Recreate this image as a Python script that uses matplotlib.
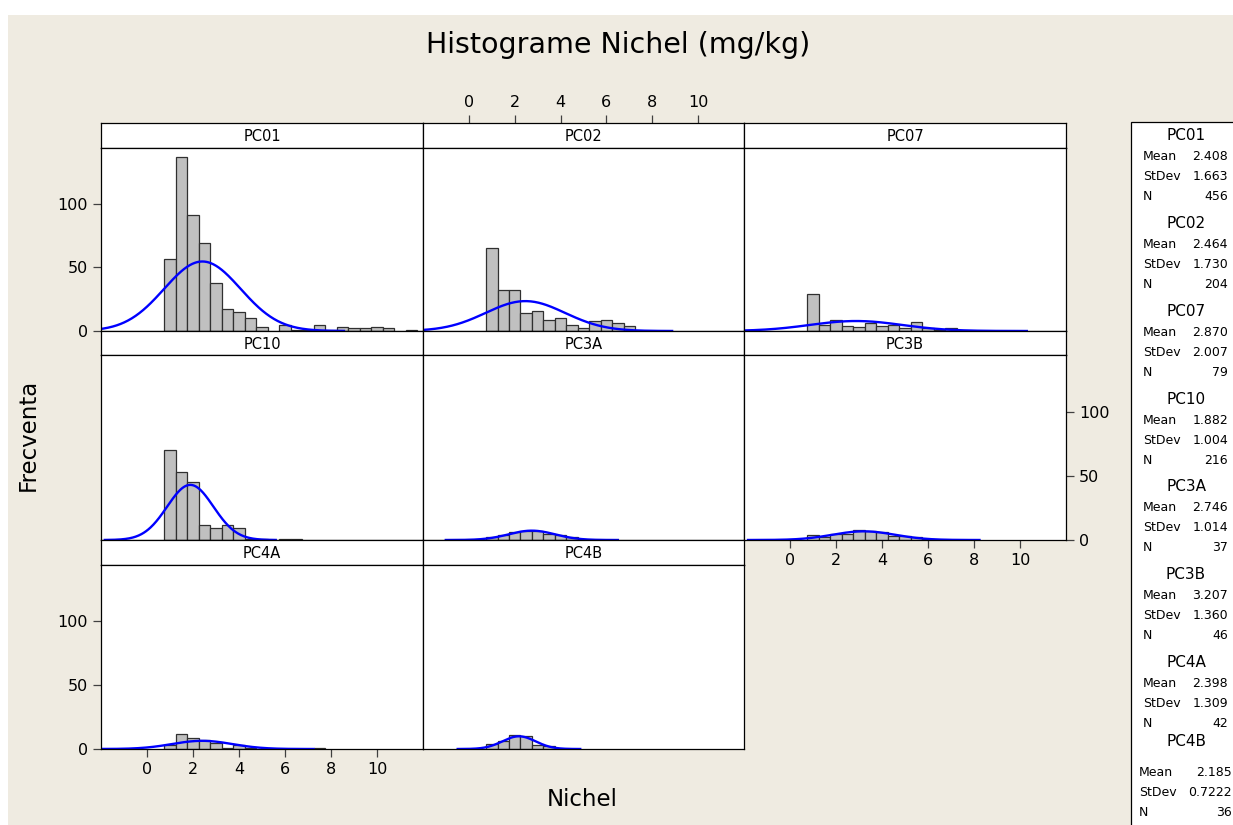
import numpy as np
import matplotlib
matplotlib.use('Agg')
import matplotlib.pyplot as plt
from matplotlib.patches import Rectangle

W, H = 1233, 825

# summary stats per sampling point
names = ['PC01', 'PC02', 'PC07', 'PC10', 'PC3A', 'PC3B', 'PC4A', 'PC4B']
means = [2.408, 2.464, 2.870, 1.882, 2.746, 3.207, 2.398, 2.185]
stdevs = [1.663, 1.730, 2.007, 1.004, 1.014, 1.360, 1.309, 0.7222]
mean_txt = ['2.408', '2.464', '2.870', '1.882', '2.746', '3.207', '2.398', '2.185']
stdev_txt = ['1.663', '1.730', '2.007', '1.004', '1.014', '1.360', '1.309', '0.7222']
ns = [456, 204, 79, 216, 37, 46, 42, 36]

# histogram bins (width 0.5)
bin_width = 0.5
bin_centers = [1.0, 1.5, 2.0, 2.5, 3.0, 3.5, 4.0, 4.5, 5.0, 5.5, 6.0,
               6.5, 7.0, 7.5, 8.0, 8.5, 9.0, 9.5, 10.0, 10.5, 11.0, 11.5]

counts_pc01 = [57, 137, 91, 69, 38, 17, 15, 10, 3, 0, 5, 1, 1, 5, 1, 3, 2, 2, 3, 2, 0, 1]
counts_pc02 = [65, 32, 32, 14, 16, 9, 10, 5, 2, 8, 9, 6, 4]
counts_pc07 = [29, 5, 9, 4, 3, 6, 4, 5, 2, 7, 2, 1, 2]
counts_pc10 = [70, 53, 45, 12, 9, 12, 9, 1, 1, 0, 1, 1]
counts_pc3a = [2, 4, 6, 7, 7, 5, 4, 2]
counts_pc3b = [4, 2, 5, 5, 8, 7, 6, 3, 3, 2, 1]
counts_pc4a = [3, 12, 9, 7, 5, 1, 3, 1, 0, 0, 0, 0, 0, 1]
counts_pc4b = [4, 6, 11, 10, 3, 2]
all_counts = [counts_pc01, counts_pc02, counts_pc07, counts_pc10,
              counts_pc3a, counts_pc3b, counts_pc4a, counts_pc4b]

x_ticks = [0, 2, 4, 6, 8, 10]
y_ticks = [0, 50, 100]

bg = '#EFEBE1'
plt.rcParams['font.family'] = ['DejaVu Sans']


def box(x0, y0, x1, y1):
    return [x0 / W, 1 - y1 / H, (x1 - x0) / W, (y1 - y0) / H]


fig = plt.figure(figsize=(W / 100, H / 100), dpi=100)
fig.patch.set_facecolor('white')
fig.add_artist(Rectangle((8 / W, 0), 1, 1 - 15 / H, transform=fig.transFigure,
                         facecolor=bg, edgecolor='none', zorder=-10))

cols = [101, 423, 744, 1066]
strip_tops = [123, 331, 540]
panel_tops = [148, 355, 565]
panel_bots = [331, 540, 749]

axes = {}
strips = {}
for i, name in enumerate(names):
    r, c = divmod(i, 3)
    x0, x1 = cols[c], cols[c + 1]
    sax = fig.add_axes(box(x0, strip_tops[r], x1, panel_tops[r]))
    sax.set_xlim(-2, 12)
    sax.set_xticks([])
    sax.set_yticks([])
    sax.text(0.5, 0.45, name, transform=sax.transAxes, ha='center', va='center', fontsize=10.5)
    for s in sax.spines.values():
        s.set_linewidth(0.9)
    strips[name] = sax

    ax = fig.add_axes(box(x0, panel_tops[r], x1, panel_bots[r]))
    ax.set_xlim(-2, 12)
    ax.set_ylim(0, 144)
    ax.set_xticks([])
    ax.set_yticks([])
    for s in ax.spines.values():
        s.set_linewidth(0.9)

    cnt = all_counts[i]
    xs = [bin_centers[k] for k in range(len(cnt)) if cnt[k] > 0]
    hs = [v for v in cnt if v > 0]
    ax.bar(xs, hs, width=bin_width, color='#C0C0C0', edgecolor='#303030', linewidth=0.9)

    # fitted normal curve scaled to counts
    m, sd, n = means[i], stdevs[i], ns[i]
    xx = np.linspace(m - 3.7 * sd, m + 3.7 * sd, 300)
    yy = n * bin_width * np.exp(-0.5 * ((xx - m) / sd) ** 2) / (sd * np.sqrt(2 * np.pi))
    ax.plot(xx, yy, color='#0000FF', linewidth=1.7)
    axes[name] = ax

tick_kw = dict(direction='out', length=6, width=0.9, labelsize=11.5, color='#404040')

for name in ['PC01', 'PC4A']:
    axes[name].set_yticks(y_ticks)
    axes[name].tick_params(axis='y', left=True, labelleft=True, **tick_kw)

axes['PC3B'].set_yticks(y_ticks)
axes['PC3B'].tick_params(axis='y', left=False, labelleft=False, right=True, labelright=True, **tick_kw)

for name in ['PC4A', 'PC3B']:
    axes[name].set_xticks(x_ticks)
    axes[name].tick_params(axis='x', bottom=True, labelbottom=True, **tick_kw)

strips['PC02'].set_xticks(x_ticks)
strips['PC02'].tick_params(axis='x', bottom=False, labelbottom=False, top=True, labeltop=True, **tick_kw)

fig.text(618 / W, 1 - 45 / H, 'Histograme Nichel (mg/kg)', ha='center', va='center', fontsize=20.5)
fig.text(28 / W, 1 - 435 / H, 'Frecventa', ha='center', va='center', rotation=90, fontsize=16.5)
fig.text(582 / W, 1 - 800 / H, 'Nichel', ha='center', va='center', fontsize=16.5)

# stats panel on the right
fig.add_artist(Rectangle((1131 / W, -0.01), 0.2, 1 - 122 / H + 0.01, transform=fig.transFigure,
                         facecolor='white', edgecolor='black', linewidth=0.9, zorder=5))
for i, name in enumerate(names):
    if i < 7:
        hy = 136 + 87.7 * i
        rows_y = [hy + 21, hy + 41, hy + 61]
        lx, rx = 1143, 1228
    else:
        hy = 742
        rows_y = [773, 793, 812]
        lx, rx = 1139, 1232
    fig.text(1186 / W, 1 - hy / H, name, ha='center', va='center', fontsize=11, zorder=6)
    labels = ['Mean', 'StDev', 'N']
    values = [mean_txt[i], stdev_txt[i], str(ns[i])]
    for lab, val, yy_ in zip(labels, values, rows_y):
        fig.text(lx / W, 1 - yy_ / H, lab, ha='left', va='center', fontsize=9, zorder=6)
        fig.text(rx / W, 1 - yy_ / H, val, ha='right', va='center', fontsize=9, zorder=6)

fig.savefig('out.png', dpi=100, facecolor=fig.get_facecolor())
